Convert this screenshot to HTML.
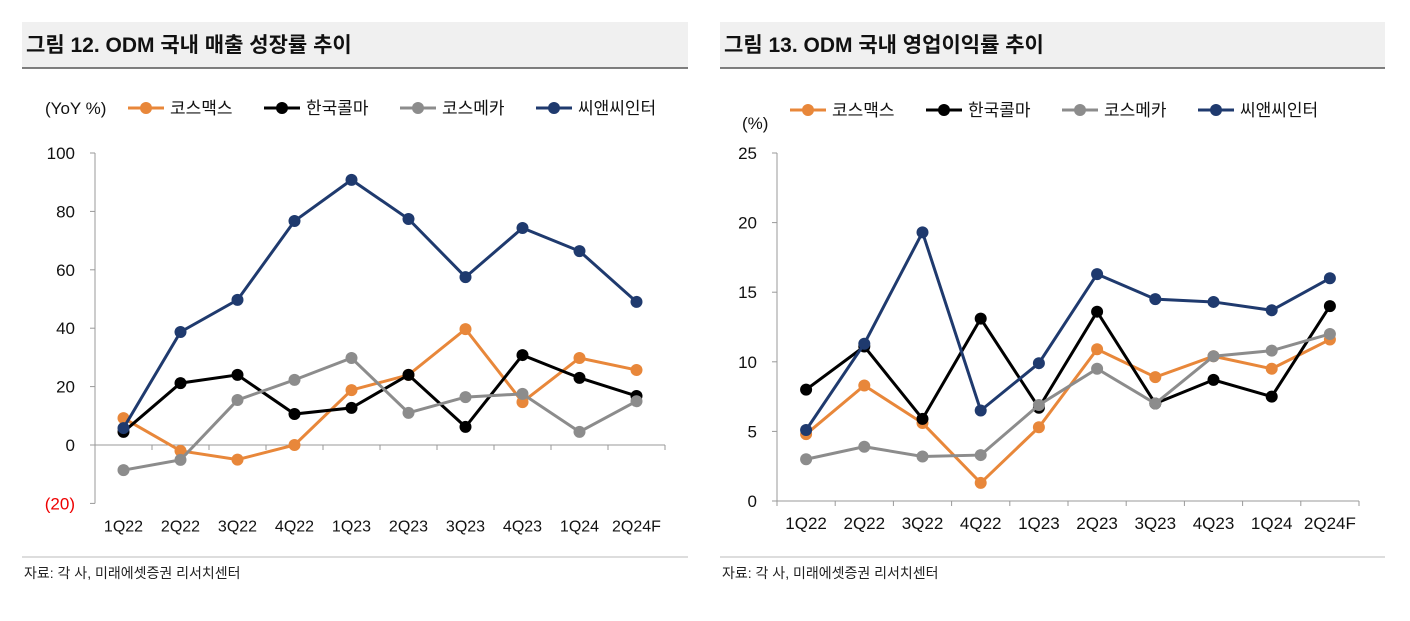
<!DOCTYPE html>
<html><head><meta charset="utf-8"><style>
body{margin:0;background:#fff;width:1410px;height:616px;overflow:hidden;font-family:"Liberation Sans","Noto Sans CJK KR",sans-serif}
svg text{font-family:"Liberation Sans","Noto Sans CJK KR",sans-serif}
</style></head><body>
<svg id="s" width="1410" height="616">
<rect x="22" y="22" width="666" height="46" fill="#f0f0f0"/>
<rect x="720" y="22" width="665" height="46" fill="#f0f0f0"/>
<line x1="22" y1="68" x2="688" y2="68" stroke="#555" stroke-width="1.5"/>
<line x1="720" y1="68" x2="1385" y2="68" stroke="#555" stroke-width="1.5"/>
<text x="26" y="52" font-size="21" font-weight="bold" fill="#111">그림 12. ODM 국내 매출 성장률 추이</text>
<text x="724" y="52" font-size="21" font-weight="bold" fill="#111">그림 13. ODM 국내 영업이익률 추이</text>
<line x1="22" y1="557" x2="688" y2="557" stroke="#bbb"/>
<line x1="720" y1="557" x2="1385" y2="557" stroke="#bbb"/>
<text x="24" y="578" font-size="14" fill="#222">자료: 각 사, 미래에셋증권 리서치센터</text>
<text x="722" y="578" font-size="14" fill="#222">자료: 각 사, 미래에셋증권 리서치센터</text>
<g id="g"></g>
</svg>
<script>
const categories=["1Q22","2Q22","3Q22","4Q22","1Q23","2Q23","3Q23","4Q23","1Q24","2Q24F"];
const seriesNames=["코스맥스","한국콜마","코스메카","씨앤씨인터"];
const seriesColors=["#e8873a","#000000","#8c8c8c","#1f3a6e"];
const leftCosmax=[9.2,-2,-5,0,18.8,24,39.7,14.7,29.8,25.7];
const leftKolmar=[4.5,21.2,24,10.6,12.7,24,6.2,30.8,23,16.8];
const leftCosmecca=[-8.6,-5.1,15.4,22.3,29.8,11,16.4,17.5,4.5,15];
const leftCnc=[5.8,38.7,49.7,76.7,90.8,77.4,57.5,74.3,66.4,49];
const leftTicks=[100,80,60,40,20,0,-20];
const rightCosmax=[4.8,8.3,5.6,1.3,5.3,10.9,8.9,10.4,9.5,11.6];
const rightKolmar=[8.0,11.1,5.9,13.1,6.7,13.6,7.0,8.7,7.5,14.0];
const rightCosmecca=[3.0,3.9,3.2,3.3,6.9,9.5,7.0,10.4,10.8,12.0];
const rightCnc=[5.1,11.3,19.3,6.5,9.9,16.3,14.5,14.3,13.7,16.0];
const rightTicks=[25,20,15,10,5,0];
const NS="http://www.w3.org/2000/svg";
const g=document.getElementById('g');
function mk(t,a,txt){const e=document.createElementNS(NS,t);for(const k in a)e.setAttribute(k,a[k]);if(txt!==undefined)e.textContent=txt;g.appendChild(e);return e;}
function chart(p,series,ticks){
  const y=v=>p.y0+(v-p.vmin)*(p.y1-p.y0)/(p.vmax-p.vmin);
  const step=(p.xr-p.xl)/categories.length;
  const x=i=>p.xl+step*(i+0.5);
  let ax=mk('line',{x1:p.xl,y1:p.y1,x2:p.xl,y2:p.y0,stroke:'#999'});
  
  let bx=mk('line',{x1:p.xl,y1:y(p.base),x2:p.xr,y2:y(p.base),stroke:'#999'});
  
  ticks.forEach(t=>{
    mk('line',{x1:p.xl-5,y1:y(t),x2:p.xl,y2:y(t),stroke:'#999'});
    const lbl=t<0?'('+(-t)+')':String(t);
    const e=mk('text',{x:p.xl-20,y:y(t)+6,'font-size':17,'text-anchor':'end',fill:t<0?'#e00':'#111'},lbl);
    
  });
  for(let i=0;i<=categories.length;i++)mk('line',{x1:p.xl+step*i,y1:y(p.base),x2:p.xl+step*i,y2:y(p.base)+5,stroke:'#999'});
  categories.forEach((c,i)=>{
    const e=mk('text',{x:x(i),y:p.y0+28,'font-size':p.fs,'text-anchor':'middle',fill:'#111'},c);
    
  });
  series.forEach((s,k)=>{
    const pl=mk('polyline',{points:s.map((v,i)=>x(i)+','+y(v)).join(' '),fill:'none',stroke:seriesColors[k],'stroke-width':3});
    
    s.forEach((v,i)=>{
      const c=mk('circle',{cx:x(i),cy:y(v),r:6,fill:seriesColors[k]});
      
    });
  });
  let lx=p.lx;
  seriesNames.forEach((n,k)=>{
    mk('line',{x1:lx,y1:p.ly,x2:lx+36,y2:p.ly,stroke:seriesColors[k],'stroke-width':3});
    mk('circle',{cx:lx+18,cy:p.ly,r:6,fill:seriesColors[k]});
    const e=mk('text',{x:lx+42,y:p.ly+6,'font-size':17,fill:'#111'},n);
    
    lx+=42+n.length*17+26;
  });
  const u=mk('text',{x:p.ux,y:p.uy,'font-size':17,fill:'#111'},p.unit);
  
}
chart({id:'left',xl:95,xr:665,y0:503.4,y1:153,vmin:-20,vmax:100,base:0,fs:16,lx:128,ly:108,ux:45,uy:114,unit:'(YoY %)'},[leftCosmax,leftKolmar,leftCosmecca,leftCnc],leftTicks);
chart({id:'right',xl:777,xr:1359,y0:501,y1:153,vmin:0,vmax:25,base:0,fs:17,lx:790,ly:110,ux:742,uy:129,unit:'(%)'},[rightCosmax,rightKolmar,rightCosmecca,rightCnc],rightTicks);
</script>
</body></html>
